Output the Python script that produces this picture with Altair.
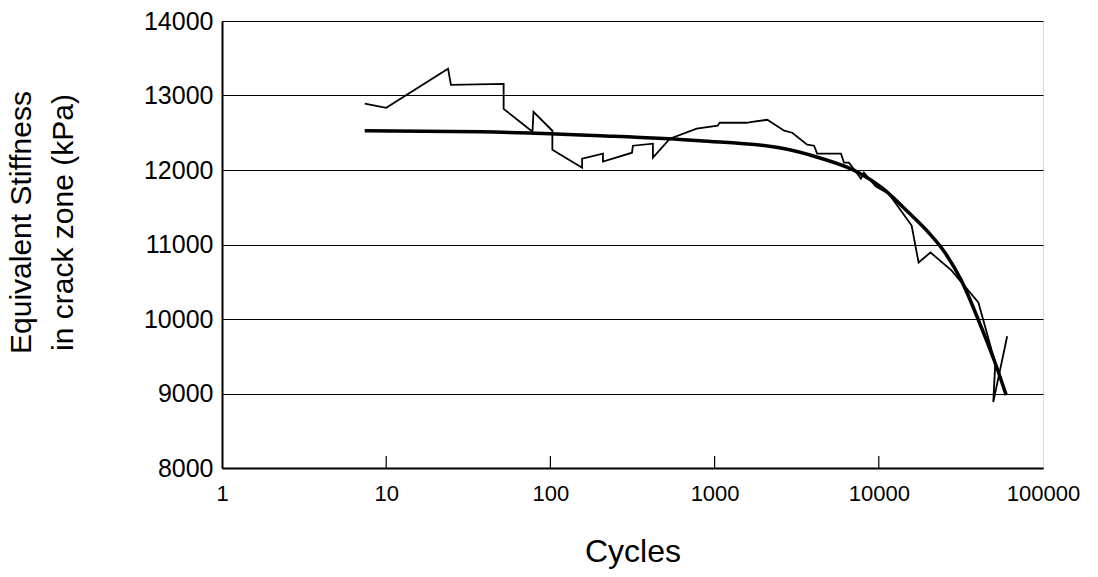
import altair as alt
import pandas as pd

# Measured equivalent stiffness in the crack zone vs. load cycles
cycles_measured = [7.4, 10, 23.8, 24.8, 51.9, 51.9, 77.8, 78.9, 102.8, 102.8,
                   156, 156, 209, 209, 314, 318, 421, 421, 534, 778,
                   1043, 1074, 1563, 1692, 2094, 2654, 2970, 3664, 4036, 4210,
                   5885, 6140, 6580, 7780, 8110, 9600, 11500, 15850, 17470, 20650,
                   27700, 40400, 44500, 51200, 49800, 60500]
stiffness_measured = [12890, 12835, 13360, 13143, 13156, 12820, 12515, 12780, 12527, 12272,
                      12031, 12152, 12219, 12112, 12232, 12326, 12353, 12165, 12420, 12554,
                      12594, 12634, 12634, 12647, 12674, 12527, 12500, 12339, 12326, 12219,
                      12219, 12098, 12098, 11884, 11964, 11777, 11683, 11255, 10759, 10893,
                      10652, 10223, 9889, 9406, 8884, 9768]

# Fitted trend curve
cycles_fit = [7.4, 37.6, 201, 811, 2477, 4330, 7560, 10430, 15200, 20100,
              25500, 31800, 42100, 51200, 59700]
stiffness_fit = [12527, 12513, 12460, 12393, 12299, 12165, 11964, 11763, 11429, 11161,
                 10880, 10518, 9889, 9406, 8978]

x_ticks = [1, 10, 100, 1000, 10000, 100000]
inner_ticks = [10, 100, 1000, 10000]
y_ticks = [8000, 9000, 10000, 11000, 12000, 13000, 14000]

FONT = "Liberation Sans"
W, H = 821, 447

measured = pd.DataFrame({"cycles": cycles_measured, "stiffness": stiffness_measured,
                         "idx": range(len(cycles_measured))})
fit = pd.DataFrame({"cycles": cycles_fit, "stiffness": stiffness_fit})
ticks = pd.DataFrame({"cycles": inner_ticks})

x_scale = alt.Scale(type="log", domain=[1, 100000], nice=False)
y_scale = alt.Scale(domain=[8000, 14000], nice=False, zero=False)

x_axis = alt.Axis(values=x_ticks, format="d", title="Cycles", grid=False,
                  ticks=False, labelPadding=15, labelFontSize=22, labelFont=FONT,
                  labelColor="black", titleFont=FONT, titleFontSize=32,
                  titleFontWeight="normal", titleColor="black", titlePadding=32,
                  domainColor="black", domainWidth=2, labelFlush=False)
y_axis = alt.Axis(values=y_ticks, format="d",
                  title=["Equivalent Stiffness", "in crack zone (kPa)"],
                  grid=True, gridColor="black", gridWidth=1.2, gridOpacity=1,
                  ticks=False, labelPadding=9, labelFontSize=25, labelFont=FONT,
                  labelColor="black", titleFont=FONT, titleFontSize=30,
                  titleFontWeight="normal", titleColor="black",
                  titleLineHeight=42, titleX=-186, titleY=201,
                  domainColor="black", domainWidth=2)

grid_layer = alt.Chart(measured).mark_line(opacity=0).encode(
    x=alt.X("cycles:Q", scale=x_scale, axis=x_axis),
    y=alt.Y("stiffness:Q", scale=y_scale, axis=y_axis),
)

measured_line = alt.Chart(measured).mark_line(color="black", strokeWidth=1.8).encode(
    x=alt.X("cycles:Q", scale=x_scale),
    y=alt.Y("stiffness:Q", scale=y_scale),
    order="idx:Q",
)

fit_line = alt.Chart(fit).mark_line(color="black", strokeWidth=3.5,
                                    interpolate="monotone").encode(
    x=alt.X("cycles:Q", scale=x_scale),
    y=alt.Y("stiffness:Q", scale=y_scale),
)

tick_marks = alt.Chart(ticks).mark_rule(color="black", strokeWidth=1.2).encode(
    x=alt.X("cycles:Q", scale=x_scale),
    y=alt.value(H),
    y2=alt.value(H - 12),
)

chart = alt.layer(grid_layer, fit_line, measured_line, tick_marks).properties(
    width=W, height=H,
    padding={"left": 222, "top": 21, "right": 55, "bottom": 109},
    autosize="none",
).configure_view(stroke="black", strokeWidth=2).configure(background="white")

chart.save("out.html", embed_options={"renderer": "svg", "actions": False})
